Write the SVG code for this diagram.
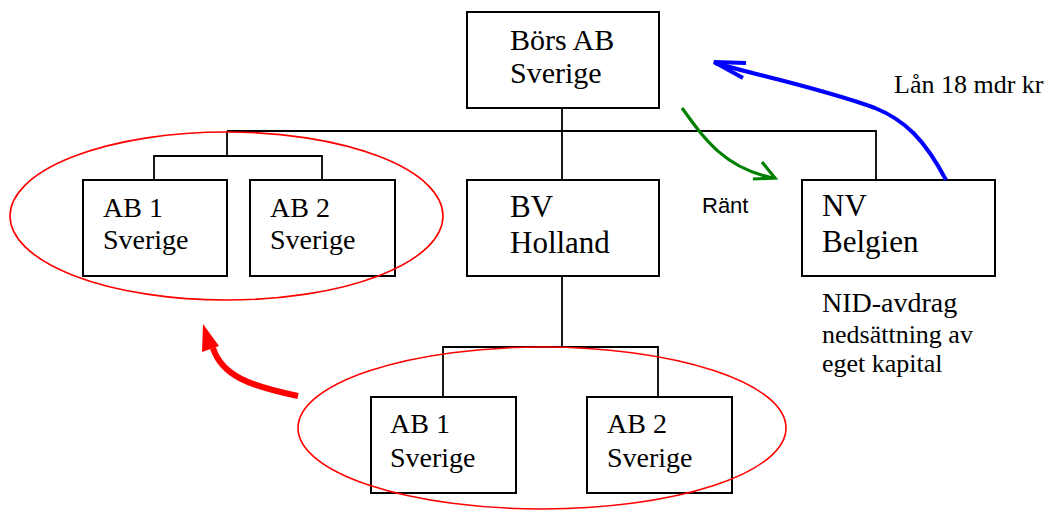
<svg xmlns="http://www.w3.org/2000/svg" width="1050" height="511" viewBox="0 0 1050 511">
<style>
.box{fill:#fff;stroke:#000;stroke-width:2}
.ln{fill:none;stroke:#000;stroke-width:1.8}
.t{font-family:"Liberation Serif","Times New Roman",serif;fill:#000}
.big{font-size:30px}
.mid{font-size:28px}
.ell{fill:none;stroke:#f00;stroke-width:1.6}
</style>
<rect width="1050" height="511" fill="#fff"/>
<g id="connectors">
<path class="ln" d="M562,108 V180 M227,131 H876 V180 M227,131 V156 M154,180 V156 H322 V180 M562,276 V347 M443,397 V347 H658 V397"/>
</g>
<g id="node-bors">
<rect class="box" x="467" y="12" width="192" height="96"/>
<text class="t big" x="510" y="50">Börs AB</text>
<text class="t big" x="510" y="83">Sverige</text>
</g>
<g id="node-ab1-top">
<rect class="box" x="83" y="180" width="144" height="96"/>
<text class="t mid" x="103" y="217">AB 1</text>
<text class="t mid" x="103" y="249">Sverige</text>
</g>
<g id="node-ab2-top">
<rect class="box" x="250" y="180" width="145" height="96"/>
<text class="t mid" x="270" y="217">AB 2</text>
<text class="t mid" x="270" y="249">Sverige</text>
</g>
<g id="node-bv">
<rect class="box" x="467" y="180" width="192" height="96"/>
<text class="t" font-size="31" x="510" y="217">BV</text>
<text class="t" font-size="31" x="510" y="253">Holland</text>
</g>
<g id="node-nv">
<rect class="box" x="802" y="180" width="193" height="96"/>
<text class="t" font-size="31" x="822" y="216">NV</text>
<text class="t" font-size="31" x="822" y="252">Belgien</text>
</g>
<g id="node-ab1-bottom">
<rect class="box" x="371" y="397" width="145" height="96"/>
<text class="t mid" x="390" y="433">AB 1</text>
<text class="t mid" x="390" y="467">Sverige</text>
</g>
<g id="node-ab2-bottom">
<rect class="box" x="587" y="397" width="145" height="96"/>
<text class="t mid" x="607" y="433">AB 2</text>
<text class="t mid" x="607" y="467">Sverige</text>
</g>
<g id="groups">
<ellipse class="ell" cx="226.5" cy="216" rx="216.5" ry="84"/>
<ellipse class="ell" cx="542" cy="428" rx="244" ry="81"/>
</g>
<g id="arrows">
<path d="M946,180 C925,140 905,120 875,108 C820,88 760,76 715,63" fill="none" stroke="#00f" stroke-width="4"/>
<path d="M746,63 L714,62 L743,78" fill="none" stroke="#00f" stroke-width="4"/>
<path d="M682,108 C705,140 725,168 773,178" fill="none" stroke="#008000" stroke-width="3.2"/>
<path d="M762,162 L775,178 L753,179" fill="none" stroke="#008000" stroke-width="3.2"/>
<path d="M298,396 C250,386 222,376 213,348" fill="none" stroke="#f00" stroke-width="6"/>
<polygon points="203,324 202,352 219,346" fill="#f00"/>
</g>
<g id="labels">
<text class="t" font-size="26" x="894" y="93">Lån 18 mdr kr</text>
<text font-family="Liberation Sans, Arial, sans-serif" font-size="22" x="702" y="213">Ränt</text>
<text class="t" font-size="28" x="822" y="312">NID-avdrag</text>
<text class="t" font-size="26" x="822" y="343">nedsättning av</text>
<text class="t" font-size="26" x="822" y="372">eget kapital</text>
</g>
</svg>
